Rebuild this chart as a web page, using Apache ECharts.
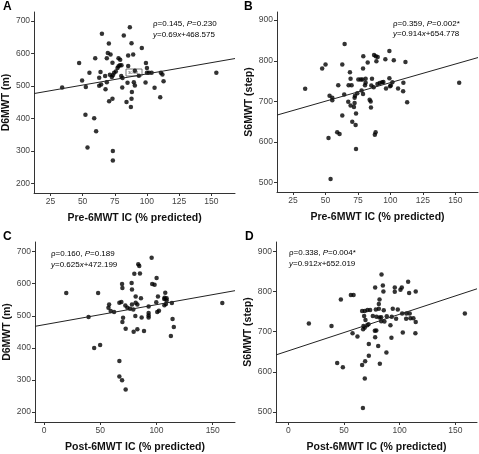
<!DOCTYPE html>
<html>
<head>
<meta charset="utf-8">
<script src="https://cdn.jsdelivr.net/npm/echarts@6/dist/echarts.min.js"></script>
<style>
html, body { margin: 0; padding: 0; background: #fff; }
#chart { width: 479px; height: 454px; }
</style>
</head>
<body>
<div id="chart"></div>
<script>
// panel A: pre-6MWT IC vs D6MWT
var preD6 = [[34.1,496],[47.3,571],[49.6,517],[52.5,497],[55.3,541],[52.2,412],[59,401],[60.5,361],[53.8,311],[59.8,586],
  [65,661],[62.9,526],[63.9,543],[62.9,501],[64.4,505],[67.5,531],[68.8,512],[67.8,490],[70.4,631],[69.6,602],
  [71.7,597],[68.8,586],[73.2,572],[71.2,535],[72.7,528],[73.5,533],[70.6,453],[73.2,461],[73.5,300],[73.5,271],
  [74.5,541],[75.8,545],[77.1,556],[77.9,561],[78.9,564],[80.2,564],[77.9,586],[79.2,581],[80.8,496],[82,656],
  [85.4,594],[89.3,597],[85.4,562],[86.7,681],[88,632],[84.9,510],[84.1,451],[87.5,436],[88,461],[88.3,482],
  [89.8,512],[90.6,502],[81,525],[80,531],[90.6,547],[93.7,532],[96,617],[98.9,511],[99.2,571],[100,556],
  [100,541],[101.5,541],[103.6,541],[105.9,495],[110.3,466],[110.8,541],[112,536],[112.9,515],[153.9,541]];

// panel B: pre-6MWT IC vs S6MWT
var preS6 = [[34.3,731],[47.4,781],[50,791],[53.1,714],[55.2,709],[55.2,703],[52.3,610],[53.9,509],[59,624],[60.8,620],
  [62.9,791],[62.9,665],[64.7,841],[64.4,717],[59.8,740],[67.8,740],[70.1,740],[67.5,699],[68.8,772],[69.3,756],
  [69.3,690],[70.6,650],[71.9,686],[72.4,696],[72.7,714],[72.4,709],[73.2,642],[73.5,670],[73.5,583],[74.5,720],
  [75.3,754],[77.1,754],[78.4,754],[78.9,781],[79.1,811],[78.9,718],[80.4,740],[80.9,756],[80.9,746],[82.5,796],
  [84,704],[84.8,700],[85,685],[85.8,756],[85.3,739],[87.1,735],[87.4,814],[88.7,811],[88,618],[88.6,624],
  [90.2,809],[89.2,799],[90,743],[91.8,745],[93.6,747],[94.6,748],[96.1,804],[96.6,732],[99.2,824],[99.2,757],
  [99.7,737],[100.3,739],[101.5,747],[102.6,801],[105.9,732],[110,746],[109.8,725],[111.6,797],[112.9,698],[153,746],
  [77.8,727]];

// panel C: post-6MWT IC vs D6MWT
var postD6 = [[19.8,571],[48.1,571],[39.6,496],[44.6,400],[49.9,409],[57.9,535],[57.3,525],[59.3,515],[62.3,512],[67,541],
  [68.8,543],[69.4,599],[69.7,587],[70.3,494],[69.7,481],[67,359],[67,311],[69.4,299],[72.6,270],[72.3,532],
  [74.1,525],[72.6,460],[76.5,522],[78.2,535],[79.4,520],[80.3,631],[77.9,602],[78.2,582],[81.5,560],[83,535],
  [79.7,450],[83,458],[81.2,499],[81.5,541],[83.8,661],[84.7,655],[85.3,632],[86.2,555],[86.8,495],[88.9,453],
  [93,529],[93,509],[93,501],[93,495],[95.7,681],[96.2,599],[98.3,597],[100.1,618],[99.8,542],[101.3,560],
  [100.7,512],[102.2,516],[107.2,556],[106.9,552],[107.8,572],[109,555],[109,548],[107,533],[108.4,537],[113.7,540],
  [112.8,437],[114.3,490],[115.4,465],[158.5,540]];

// panel D: post-6MWT IC vs S6MWT
var postS6 = [[18.5,720],[38.8,714],[43.9,622],[49,611],[47.2,780],[56.2,791],[58.6,791],[57.7,696],[62.1,688],[66.3,751],
  [68.7,751],[71.1,754],[68.1,739],[69.3,729],[67.5,714],[68.7,710],[67.2,706],[70.8,716],[72,718],[73.5,754],
  [75.9,739],[72.3,669],[77.7,702],[72.3,640],[66.3,617],[69,626],[68.7,583],[67,510],[83.7,842],[107.6,824],
  [78,810],[84.9,815],[85.4,800],[95.6,810],[95.6,799],[100.7,804],[101.9,810],[108.5,796],[114.4,800],[81.9,780],
  [81.3,769],[81.3,757],[78.6,755],[85.7,753],[93.8,757],[98.3,755],[102.2,745],[106,745],[109,745],[88.4,738],
  [79.2,737],[81.9,735],[83.4,736],[92.9,737],[96.8,732],[105.8,732],[109.6,733],[83.4,726],[86.3,725],[91.7,716],
  [102.8,698],[92.6,685],[78,686],[80.7,664],[88.1,648],[82.2,620],[114.1,696],[114.4,724],[112.3,733],[79,703],
  [158.5,745]];

// fitted lines as printed on the chart: [slope, intercept]
var fitA = [0.69, 468.575];
var fitB = [0.914, 654.778];
var fitC = [0.625, 472.199];
var fitD = [0.912, 652.019];

var statsA = ['0.145', '0.230'];
var statsB = ['0.359', '0.002*'];
var statsC = ['0.160', '0.189'];
var statsD = ['0.338', '0.004*'];

var xTicksPre = [25, 50, 75, 100, 125, 150];
var xTicksPost = [0, 50, 100, 150];
var yTicksD6 = [200, 300, 400, 500, 600, 700];
var yTicksS6 = [500, 600, 700, 800, 900];

var xNames = ['Pre-6MWT IC (% predicted)', 'Pre-6MWT IC (% predicted)', 'Post-6MWT IC (% predicted)', 'Post-6MWT IC (% predicted)'];
var yNames = ['D6MWT (m)', 'S6MWT (step)', 'D6MWT (m)', 'S6MWT (step)'];
var letters = ['A', 'B', 'C', 'D'];

var FONT = 'Liberation Sans, Arial, sans-serif';

var panels = [
  { grid: { left: 34, top: 12, width: 201, height: 181 }, x: [12.3, 168.4], y: [171, 728], xt: xTicksPre, yt: yTicksD6, pts: preD6, fit: fitA, st: statsA },
  { grid: { left: 277, top: 12, width: 201, height: 180 }, x: [12.6, 167.5], y: [477, 920], xt: xTicksPre, yt: yTicksS6, pts: preS6, fit: fitB, st: statsB },
  { grid: { left: 35, top: 242, width: 200, height: 182 }, x: [-8, 169.8], y: [169, 730], xt: xTicksPost, yt: yTicksD6, pts: postD6, fit: fitC, st: statsC },
  { grid: { left: 276, top: 242, width: 201, height: 182 }, x: [-11, 169.4], y: [475, 923], xt: xTicksPost, yt: yTicksS6, pts: postS6, fit: fitD, st: statsD }
];

var axisLineStyle = { color: '#333', width: 1 };

var grids = [], xAxes = [], yAxes = [], series = [];
panels.forEach(function (p, i) {
  grids.push(p.grid);
  xAxes.push({
    gridIndex: i, type: 'value', min: p.x[0], max: p.x[1],
    axisLine: { show: true, onZero: false, lineStyle: axisLineStyle },
    axisTick: { show: true, length: 3, customValues: p.xt, lineStyle: axisLineStyle },
    axisLabel: { customValues: p.xt, fontSize: 8.5, color: '#444', margin: 4, fontFamily: FONT },
    splitLine: { show: false },
    name: xNames[i], nameLocation: 'middle', nameGap: 20,
    nameTextStyle: { fontWeight: 'bold', fontSize: 10.5, color: '#111', fontFamily: FONT }
  });
  yAxes.push({
    gridIndex: i, type: 'value', min: p.y[0], max: p.y[1],
    axisLine: { show: true, onZero: false, lineStyle: axisLineStyle },
    axisTick: { show: true, length: 3, customValues: p.yt, lineStyle: axisLineStyle },
    axisLabel: { customValues: p.yt, fontSize: 8.5, color: '#444', margin: 4, fontFamily: FONT },
    splitLine: { show: false },
    name: yNames[i], nameLocation: 'middle', nameGap: 21,
    nameTextStyle: { fontWeight: 'bold', fontSize: 10.5, color: '#111', fontFamily: FONT }
  });
  series.push({
    type: 'scatter', xAxisIndex: i, yAxisIndex: i,
    data: p.pts, symbolSize: 4.5,
    itemStyle: { color: '#000' }, silent: true
  });
  series.push({
    type: 'line', xAxisIndex: i, yAxisIndex: i, showSymbol: false, silent: true,
    data: [[p.x[0], p.fit[0] * p.x[0] + p.fit[1]], [p.x[1], p.fit[0] * p.x[1] + p.fit[1]]],
    lineStyle: { color: '#222', width: 1 }
  });
});

var rich = {
  n: { fontSize: 8, color: '#333', fontFamily: FONT },
  i: { fontSize: 8, color: '#333', fontStyle: 'italic', fontFamily: FONT }
};
var notePos = [[153, 24], [393, 23.5], [51, 254], [289, 253]];
var letterPos = [[3, 1], [244, 1], [3, 231], [245, 231]];

var graphics = [];
panels.forEach(function (p, i) {
  graphics.push({
    type: 'text', left: letterPos[i][0], top: letterPos[i][1],
    style: { text: letters[i], font: 'bold 12px ' + FONT, fill: '#000' }
  });
  graphics.push({
    type: 'text', x: notePos[i][0], y: notePos[i][1] - 5,
    style: {
      text: '{n|\u03c1=' + p.st[0] + ', }{i|P}{n|=' + p.st[1] + '}\n{i|y}{n|=' + p.fit[0] + '}{i|x}{n|+' + p.fit[1].toFixed(3) + '}',
      rich: rich, lineHeight: 10.5
    }
  });
});
// small label box left on panel A
graphics.push({
  type: 'group', x: 126, y: 69,
  children: [
    { type: 'rect', shape: { x: 0, y: 0, width: 16, height: 7 }, style: { fill: '#fff', stroke: '#555', lineWidth: 0.8 } },
    { type: 'text', x: 2, y: 1.5, style: { text: '30.64', font: '4px ' + FONT, fill: '#444' } }
  ]
});

var chart = echarts.init(document.getElementById('chart'));
chart.setOption({
  animation: false,
  backgroundColor: '#fff',
  grid: grids,
  xAxis: xAxes,
  yAxis: yAxes,
  series: series,
  graphic: graphics
});
</script>
</body>
</html>
